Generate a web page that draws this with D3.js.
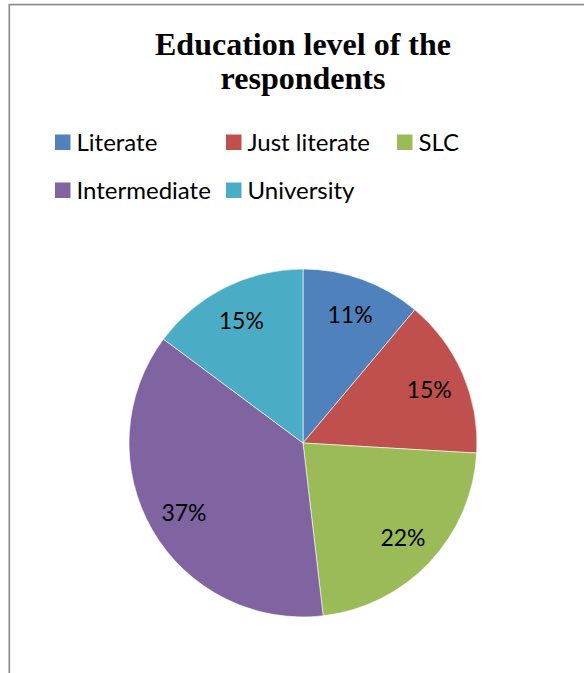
<!DOCTYPE html>
<html>
<head>
<meta charset="utf-8">
<script src="https://cdn.jsdelivr.net/npm/d3@7"></script>
<style>
    body { margin: 0; background: #fff; }
    svg { display: block; }
</style>
</head>
<body>
<div id="chart"></div>
<script>
const titleLines = ['Education level of the', 'respondents'];
const categories = ['Literate', 'Just literate', 'SLC', 'Intermediate', 'University'];
const counts = [15, 20, 30, 50, 20];
const colors = ['#4F81BD', '#C0504D', '#9BBB59', '#8064A2', '#4BACC6'];

const width = 584;
const height = 673;
const cx = 303;
const cy = 443;
const radius = 174;

const svg = d3.select('#chart').append('svg')
    .attr('width', width)
    .attr('height', height);

// chart area frame (right and bottom edges fall outside the crop)
svg.append('rect')
    .attr('x', 9.3)
    .attr('y', 4.6)
    .attr('width', 800)
    .attr('height', 800)
    .attr('fill', '#fff')
    .attr('stroke', '#888')
    .attr('stroke-width', 1.6);

svg.append('text')
    .attr('x', cx)
    .attr('y', 55)
    .attr('text-anchor', 'middle')
    .style('font-family', '"Liberation Serif", "Times New Roman", serif')
    .style('font-weight', 'bold')
    .style('font-size', '32px')
    .selectAll('tspan')
    .data(titleLines)
    .enter()
    .append('tspan')
    .attr('x', cx)
    .attr('dy', (d, i) => (i === 0 ? 0 : 33.5))
    .text((d) => d);

// legend, three columns like Excel lays it out
const legend = svg.append('g')
    .attr('transform', 'translate(55, 134.5)');

const item = legend.selectAll('g')
    .data(categories)
    .enter()
    .append('g')
    .attr('transform', (d, i) => `translate(${(i % 3) * 171}, ${Math.floor(i / 3) * 48})`);

item.append('rect')
    .attr('width', 15.5)
    .attr('height', 15.5)
    .attr('fill', (d, i) => colors[i]);

item.append('text')
    .attr('x', 21.5)
    .attr('y', 16)
    .style('font-family', 'Lato, sans-serif')
    .style('font-size', '24px')
    .attr('fill', '#000')
    .text((d) => d);

// pie
const total = d3.sum(counts);
const pie = d3.pie().sort(null).value((d) => d)(counts);
const arc = d3.arc().innerRadius(0).outerRadius(radius);
const labelArc = d3.arc().innerRadius(radius * 0.79).outerRadius(radius * 0.79);

const g = svg.append('g')
    .attr('transform', `translate(${cx}, ${cy})`);

g.selectAll('path')
    .data(pie)
    .enter()
    .append('path')
    .attr('d', arc)
    .attr('fill', (d, i) => colors[i])
    .attr('stroke', '#fff')
    .attr('stroke-width', 0.6);

g.selectAll('text')
    .data(pie)
    .enter()
    .append('text')
    .attr('transform', (d) => `translate(${labelArc.centroid(d)})`)
    .attr('text-anchor', 'middle')
    .attr('dominant-baseline', 'central')
    .style('font-family', 'Lato, sans-serif')
    .style('font-size', '23px')
    .attr('fill', '#000')
    .text((d) => `${Math.round(100 * d.value / total)}%`);
</script>
</body>
</html>
